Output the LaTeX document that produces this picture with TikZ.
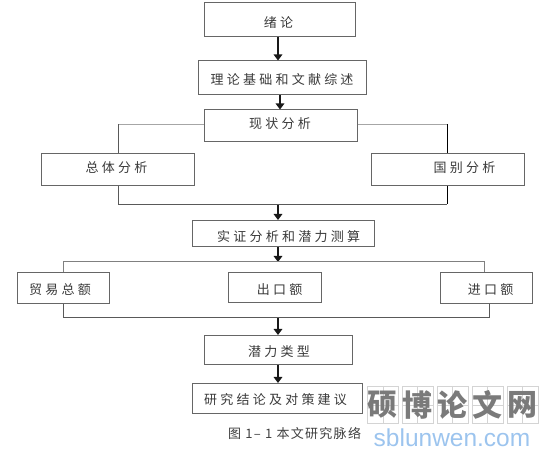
\documentclass[tikz,border=0pt]{standalone}
\usepackage{fontspec}
\setmainfont{Liberation Sans}
\newfontfamily\cjk[LetterSpace=25]{Noto Sans CJK SC}
\newfontfamily\cjkcap[LetterSpace=10]{Noto Sans CJK SC}
\newfontfamily\cjkwm{Noto Sans CJK SC}
\usetikzlibrary{arrows.meta}
\definecolor{boxline}{HTML}{666666}
\definecolor{txt}{HTML}{3A3A3A}
\definecolor{wmgrid}{HTML}{D4D4D4}
\definecolor{wmtext}{HTML}{7A7A7A}
\definecolor{wmblue}{HTML}{9CC4EE}
\tikzset{
  x=1pt,y=-1pt,
  bx/.style={draw=boxline,line width=1pt,fill=white,inner sep=0pt,anchor=north west},
  lab/.style={font=\cjk\fontsize{13}{13}\selectfont,text=txt,inner sep=0pt,anchor=center},
  captxt/.style={font=\cjkcap\fontsize{13}{13}\selectfont,text=black!75,inner sep=0pt,anchor=west},
  flow/.style={draw=black!90,line width=1.4pt,-{Triangle[length=6pt,width=8.5pt]}},
  conn/.style={draw=black!65,line width=1pt},
  connl/.style={draw=black!35,line width=1pt},
  wmcell/.style={draw=wmgrid,line width=0.8pt,minimum width=31pt,minimum height=37pt,inner sep=0pt,
    font=\cjkwm\bfseries\fontsize{30}{30}\selectfont,text=wmtext,anchor=north west},
  wmurl/.style={font=\fontsize{24.5}{24.5}\selectfont,text=wmblue,inner sep=0pt,anchor=center}
}
\newcommand{\bxn}[5]{\node[bx,minimum width=#3pt,minimum height=#4pt] (#5) at (#1,#2) {};}
\begin{document}
\begin{tikzpicture}
\useasboundingbox (0,0) rectangle (555,457);
% boxes
\bxn{203.5}{2.5}{151}{33.5}{intro}
\bxn{198}{60.5}{167.5}{34}{theory}
\bxn{203.5}{109.5}{153}{31.5}{status}
\bxn{41}{153.5}{153}{31.5}{whole}
\bxn{370.5}{153.5}{153}{31.5}{country}
\bxn{191.5}{220}{182}{26.5}{empir}
\bxn{16.5}{272.5}{92.5}{30.5}{trade}
\bxn{227.5}{272.5}{93}{30}{export}
\bxn{439.5}{272.5}{92.5}{30.5}{import}
\bxn{203.5}{335}{148}{29.5}{ptype}
\bxn{192}{383}{169.5}{30.5}{concl}
% labels
\node[lab] (intro-t) at (278.5,23) {绪论};
\node[lab] (theory-t) at (282,80) {理论基础和文献综述};
\node[lab] (status-t) at (280,124) {现状分析};
\node[lab] (whole-t) at (116.5,168) {总体分析};
\node[lab] (country-t) at (464.5,168) {国别分析};
\node[lab] (empir-t) at (288.5,237) {实证分析和潜力测算};
\node[lab] (trade-t) at (60,290) {贸易总额};
\node[lab] (export-t) at (279.5,290) {出口额};
\node[lab] (import-t) at (490.5,290) {进口额};
\node[lab] (ptype-t) at (279,352) {潜力类型};
\node[lab] (concl-t) at (275.5,400) {研究结论及对策建议};
\node[captxt] (caption) at (228,434) {图 1– 1 本文研究脉络};
% routing coordinates
\coordinate (mid) at (278,0);
\coordinate (mid2) at (280,0);
\coordinate (lv) at (118,124.5);
\coordinate (rv) at (447,124.5);
\coordinate (jl) at (118,204.5);
\coordinate (jr) at (447,204.5);
\coordinate (tl) at (63,262);
\coordinate (tr) at (484,262);
\coordinate (bl) at (63,317.5);
\coordinate (br) at (489,317.5);
% arrows
\draw[flow] (mid|-intro.south) -- (mid|-theory.north);
\draw[flow] (mid2|-theory.south) -- (mid2|-status.north);
\draw[flow] (mid|-jl) -- (mid|-empir.north);
\draw[flow] (mid|-empir.south) -- (mid|-tl);
\draw[flow] (mid|-bl) -- (mid|-ptype.north);
\draw[flow] (mid|-ptype.south) -- (mid|-concl.north);
% branches
\draw[connl] (status.west|-lv) -- (lv);
\draw[connl] (status.east|-rv) -- (rv);
\draw[conn] (lv) -- (lv|-whole.north);
\draw[draw=black,line width=1pt] (rv) -- (rv|-country.north);
\draw[conn] (jl|-whole.south) -- (jl) -- (jr);
\draw[draw=black,line width=1pt] (jr|-country.south) -- (jr);
\draw[conn,draw=black!50] (tl|-trade.north) -- (tl) -- (tr) -- (tr|-import.north);
\draw[conn] (bl|-trade.south) -- (bl) -- (br) -- (br|-import.south);
% watermark
\foreach \n/\xx/\ch in {a/367/硕,b/401.5/博,c/436.5/论,d/471.5/文,e/506.5/网}{
  \node[wmcell] (wm\n) at (\xx,386) {};
  \draw[wmgrid,line width=0.5pt] (wm\n.north) -- (wm\n.south) (wm\n.west) -- (wm\n.east);
  \node[wmcell,draw=none] (wmt\n) at (\xx,386) {\ch};
}
\node[wmurl] (url) at (452,438) {sblunwen.com};
\end{tikzpicture}
\end{document}
